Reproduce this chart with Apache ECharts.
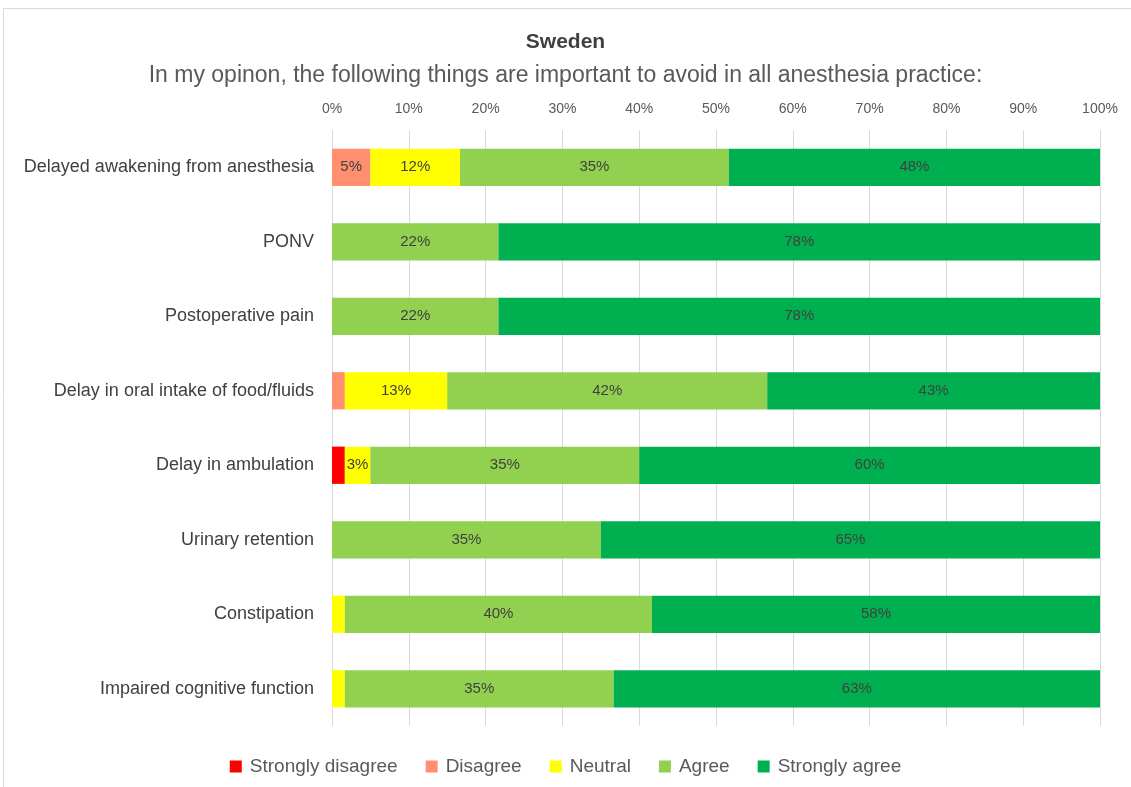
<!DOCTYPE html>
<html><head><meta charset="utf-8">
<script src="https://cdn.jsdelivr.net/npm/echarts@6/dist/echarts.min.js"></script>
<style>html,body{margin:0;padding:0;background:#fff}#c{width:1131px;height:787px}</style>
</head><body><div id="c"></div>
<script>
var categories = ["Delayed awakening from anesthesia","PONV","Postoperative pain","Delay in oral intake of food/fluids","Delay in ambulation","Urinary retention","Constipation","Impaired cognitive function"];
var stronglyDisagree = [0, 0, 0, 0, 1.67, 0, 0, 0];
var disagree = [5, 0, 0, 1.67, 0, 0, 0, 0];
var neutral = [11.67, 0, 0, 13.33, 3.33, 0, 1.67, 1.67];
var agree = [35, 21.67, 21.67, 41.67, 35, 35, 40, 35];
var stronglyAgree = [48.33, 78.33, 78.33, 43.33, 60, 65, 58.33, 63.33];
var seriesNames = ["Strongly disagree","Disagree","Neutral","Agree","Strongly agree"];
var colors = ["#FF0000","#FF8F6F","#FFFF00","#92D050","#00B050"];
var tickLabels = ["0%","10%","20%","30%","40%","50%","60%","70%","80%","90%","100%"];

var font = "Liberation Sans";
var values = [stronglyDisagree, disagree, neutral, agree, stronglyAgree];
var series = values.map(function(v, i){
  return {
    name: seriesNames[i], type: 'bar', stack: 'total', barWidth: '50%',
    data: v, itemStyle: {color: colors[i]},
    label: {show: true, position: 'inside', color: '#404040', fontFamily: font, fontSize: 15,
      formatter: function(p){ return p.value >= 3 ? Math.round(p.value) + '%' : ''; }},
    emphasis: {disabled: true}
  };
});
var chart = echarts.init(document.getElementById('c'));
chart.setOption({
  animation: false,
  textStyle: {fontFamily: font},
  title: [
    {text: 'Sweden', left: 'center', top: 27, textStyle: {fontFamily: font, fontSize: 21, fontWeight: 'bold', color: '#404040'}},
    {text: 'In my opinon, the following things are important to avoid in all anesthesia practice:', left: 'center', top: 59, textStyle: {fontFamily: font, fontSize: 23, fontWeight: 'normal', color: '#595959'}}
  ],
  graphic: [{type: 'rect', shape: {x: 3.5, y: 8.5, width: 1130, height: 780}, style: {fill: 'none', stroke: '#d9d9d9', lineWidth: 1}, silent: true}],
  legend: {bottom: 6, left: 'center', itemWidth: 12, itemHeight: 12, itemGap: 28, icon: 'rect',
    textStyle: {fontFamily: font, fontSize: 19, color: '#595959', padding: [0, 0, 0, 3]}, data: seriesNames},
  grid: {left: 332, right: 31, top: 130, bottom: 61},
  xAxis: {type: 'value', position: 'top', min: 0, max: 100, interval: 10,
    axisLine: {show: false}, axisTick: {show: false},
    splitLine: {lineStyle: {color: '#d9d9d9'}},
    axisLabel: {color: '#595959', fontSize: 14, fontFamily: font, margin: 14,
      formatter: function(v){ return tickLabels[Math.round(v/10)]; }}},
  yAxis: {type: 'category', inverse: true, data: categories,
    axisLine: {show: false}, axisTick: {show: false},
    axisLabel: {color: '#404040', fontSize: 18, fontFamily: font, margin: 18}},
  series: series
});
</script></body></html>
